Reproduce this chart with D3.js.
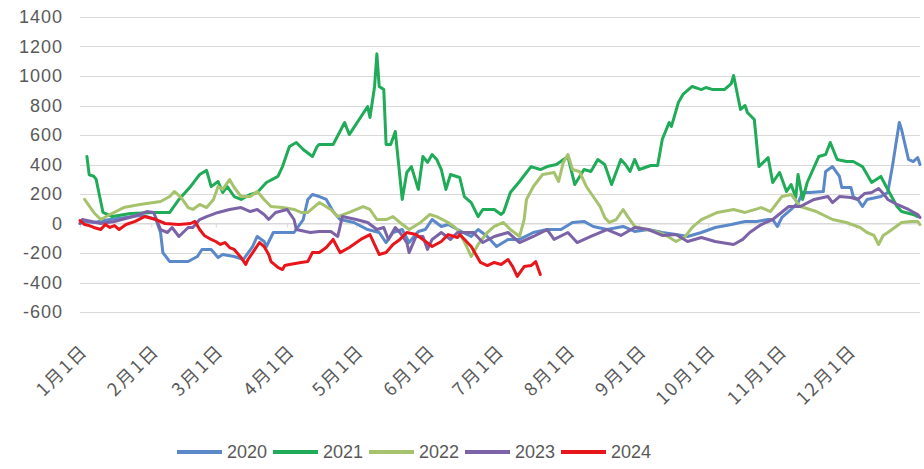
<!DOCTYPE html>
<html lang="zh">
<head>
    <meta charset="UTF-8">
    <title>2020-2024</title>
    <script src="https://d3js.org/d3.v7.min.js"></script>
    <style>
        body {
            margin: 0;
            background: #fff;
        }
        #chart svg {
            display: block;
        }
        .grid line {
            stroke: #d9d9d9;
            stroke-width: 1;
        }
        .ylab, .legend text {
            font-family: "Liberation Sans", Arial, sans-serif;
            font-size: 18px;
            fill: #595959;
        }
        .ylab {
            letter-spacing: 1px;
        }
        .xlab {
            font-family: "Noto Sans CJK SC", "Liberation Sans", sans-serif;
            font-size: 18px;
            fill: #595959;
        }
        .series {
            fill: none;
            stroke-width: 3;
            stroke-linejoin: round;
            stroke-linecap: round;
        }
    </style>
</head>
<body>
    <div id="chart"></div>
    <script>
        // day of year (0 = 1月1日) and value
        const s2020 = [[0,0],[2,14],[6,7],[13,27],[20,41],[26,54],[29,47],[33,27],[35,-61],[36,-197],[39,-258],[47,-258],[51,-224],[53,-176],[57,-176],[60,-231],[62,-210],[67,-224],[71,-244],[75,-156],[77,-88],[80,-122],[81,-156],[84,-61],[88,-61],[93,-61],[97,27],[99,163],[101,197],[104,183],[107,163],[110,81],[113,27],[119,7],[125,-41],[130,-61],[133,-129],[136,-61],[140,-41],[143,-129],[147,-54],[150,-41],[153,27],[157,-20],[160,-7],[164,-41],[170,-88],[173,-41],[177,-88],[181,-156],[186,-108],[191,-108],[197,-61],[203,-41],[209,-41],[214,7],[219,14],[223,-20],[229,-41],[236,-20],[241,-54],[247,-41],[253,-61],[259,-75],[264,-88],[270,-61],[276,-27],[283,-7],[289,14],[294,14],[299,27],[301,27],[303,-20],[305,41],[309,95],[312,142],[314,210],[317,210],[323,217],[324,353],[327,386],[330,319],[331,244],[335,244],[336,183],[338,163],[340,115],[342,163],[348,183],[351,210],[353,386],[356,685],[357,637],[360,434],[362,420],[364,447],[365,400]];
        const s2021 = [[3,455],[4,330],[6,320],[7,300],[10,75],[14,47],[22,68],[32,75],[39,75],[43,163],[48,250],[52,332],[55,360],[57,250],[60,285],[62,210],[64,250],[67,183],[70,163],[74,197],[77,210],[81,278],[86,319],[88,386],[91,522],[94,549],[97,502],[101,454],[103,522],[104,536],[110,536],[115,685],[117,603],[125,793],[126,719],[128,929],[129,1150],[130,929],[132,908],[133,536],[135,536],[137,624],[140,163],[142,346],[144,386],[147,231],[149,454],[151,414],[153,468],[155,434],[157,366],[159,231],[161,332],[165,312],[167,183],[170,142],[173,47],[175,95],[180,95],[183,61],[184,75],[187,210],[191,285],[194,346],[196,386],[200,366],[203,386],[207,400],[212,454],[215,264],[219,366],[222,353],[225,434],[228,400],[231,264],[235,434],[237,400],[239,353],[241,434],[243,366],[248,393],[251,393],[253,570],[256,685],[257,658],[260,820],[262,875],[266,929],[270,908],[272,922],[275,908],[280,908],[283,949],[284,1003],[287,773],[289,800],[290,753],[293,705],[295,386],[299,447],[301,278],[304,346],[307,217],[309,264],[311,176],[312,332],[314,163],[316,278],[321,454],[324,468],[326,549],[329,434],[333,420],[336,420],[340,386],[344,278],[348,319],[351,231],[355,115],[357,81],[362,61],[364,47]];
        const s2022 = [[2,163],[6,75],[9,27],[13,61],[19,108],[26,129],[35,149],[39,183],[41,217],[44,176],[47,108],[49,95],[52,129],[55,108],[58,163],[60,251],[62,231],[65,298],[67,244],[70,183],[74,183],[77,217],[80,163],[83,115],[88,108],[93,95],[96,75],[99,75],[104,142],[109,95],[112,47],[117,75],[123,115],[126,95],[129,27],[133,27],[136,47],[139,7],[143,-41],[148,7],[152,61],[155,47],[160,7],[163,-27],[165,-61],[168,-156],[170,-224],[173,-142],[177,-61],[180,-20],[184,7],[187,-41],[191,-88],[193,27],[194,163],[197,251],[201,332],[206,346],[208,285],[210,414],[212,468],[214,366],[217,353],[220,251],[223,183],[226,115],[228,41],[230,7],[233,27],[236,95],[238,47],[241,-20],[246,-41],[250,-54],[254,-75],[259,-122],[263,-88],[266,-27],[270,27],[277,75],[284,95],[289,75],[296,108],[300,81],[305,183],[309,197],[313,115],[320,81],[327,27],[333,7],[339,-27],[342,-61],[345,-81],[347,-142],[349,-81],[351,-61],[357,7],[361,14],[364,14],[365,-7]];
        const s2023 = [[0,0],[1,27],[9,0],[15,14],[23,47],[29,81],[32,75],[35,-41],[38,-61],[40,-27],[43,-88],[47,-27],[49,-27],[52,27],[55,47],[60,75],[65,95],[70,108],[74,81],[77,95],[80,61],[82,27],[85,75],[90,95],[93,27],[94,-41],[100,-61],[104,-54],[109,-54],[112,-88],[114,47],[120,27],[125,7],[129,-41],[132,-27],[134,-108],[137,-27],[139,-61],[142,-129],[143,-197],[146,-88],[149,-88],[151,-176],[153,-108],[157,-61],[161,-108],[164,-61],[171,-61],[175,-129],[180,-88],[186,-61],[191,-129],[197,-88],[203,-41],[206,-108],[212,-61],[216,-129],[222,-88],[229,-41],[235,-81],[241,-27],[247,-41],[253,-81],[259,-75],[264,-122],[270,-95],[276,-122],[284,-142],[288,-108],[291,-61],[296,-7],[301,27],[308,115],[313,115],[319,163],[325,183],[327,142],[330,183],[335,176],[338,163],[341,204],[344,210],[347,237],[349,204],[351,163],[355,129],[360,95],[364,61],[365,41]];
        const s2024 = [[0,20],[2,-7],[4,-14],[6,-27],[9,-41],[11,-7],[13,-27],[15,-14],[17,-41],[20,-7],[24,14],[28,47],[33,27],[37,0],[43,-7],[48,0],[50,14],[52,-41],[54,-81],[57,-108],[59,-122],[61,-142],[63,-129],[65,-163],[67,-176],[70,-231],[72,-278],[73,-244],[76,-176],[78,-129],[80,-156],[82,-210],[83,-258],[86,-298],[88,-312],[89,-285],[91,-278],[96,-264],[99,-258],[101,-197],[104,-197],[107,-163],[110,-108],[113,-197],[117,-163],[122,-108],[126,-75],[130,-210],[133,-197],[136,-142],[139,-108],[142,-61],[146,-75],[149,-108],[153,-156],[157,-122],[160,-75],[164,-95],[165,-75],[170,-156],[174,-264],[177,-285],[180,-264],[183,-278],[186,-244],[188,-292],[190,-359],[193,-292],[196,-285],[198,-258],[200,-346]];

        const seriesNames = ["2020", "2021", "2022", "2023", "2024"];
        const seriesColors = ["#5b88c8", "#1fab58", "#a6c26c", "#7c63a8", "#e8151b"];
        const monthDays = [0, 31, 59, 90, 120, 151, 181, 212, 243, 273, 304, 334];
        const monthLabels = ["1月1日", "2月1日", "3月1日", "4月1日", "5月1日", "6月1日",
                             "7月1日", "8月1日", "9月1日", "10月1日", "11月1日", "12月1日"];
        const yTicks = [-600, -400, -200, 0, 200, 400, 600, 800, 1000, 1200, 1400];

        const W = 924, H = 469;
        const plotLeft = 80, plotRight = 920, plotTop = 17, plotBottom = 312;

        const svg = d3.select("#chart").append("svg")
            .attr("width", W)
            .attr("height", H);

        const x = d3.scaleLinear().domain([0, 365]).range([plotLeft, plotRight]);
        const y = d3.scaleLinear().domain([-600, 1400]).range([plotBottom, plotTop]);

        // horizontal gridlines
        svg.append("g")
            .attr("class", "grid")
            .selectAll("line")
            .data(yTicks)
            .enter().append("line")
            .attr("x1", plotLeft)
            .attr("x2", plotRight)
            .attr("y1", d => Math.round(y(d)) + 0.5)
            .attr("y2", d => Math.round(y(d)) + 0.5);

        // y labels
        svg.append("g")
            .selectAll("text")
            .data(yTicks)
            .enter().append("text")
            .attr("class", "ylab")
            .attr("x", 63)
            .attr("y", d => y(d))
            .attr("dy", "0.35em")
            .attr("text-anchor", "end")
            .text(d => d);

        // category axis on the zero line, with small ticks
        const xAxis = d3.axisBottom(x)
            .tickValues(monthDays)
            .tickSize(4)
            .tickSizeOuter(0)
            .tickFormat("");
        const gx = svg.append("g")
            .attr("transform", `translate(0,${Math.round(y(0)) + 0.5})`)
            .call(xAxis);
        gx.select(".domain").attr("stroke", "#d9d9d9");
        gx.selectAll(".tick line").attr("stroke", "#d9d9d9");

        // month labels at the bottom, rotated
        svg.append("g")
            .selectAll("text")
            .data(monthDays)
            .enter().append("text")
            .attr("class", "xlab")
            .attr("text-anchor", "end")
            .attr("transform", d => `translate(${x(d) + 9},352) rotate(-45)`)
            .style("letter-spacing", "2px")
            .text((d, i) => monthLabels[i]);

        // series lines
        const line = d3.line()
            .x(d => x(d[0]))
            .y(d => y(d[1]));

        const allSeries = [s2020, s2021, s2022, s2023, s2024];
        svg.append("g")
            .selectAll("path")
            .data(allSeries)
            .enter().append("path")
            .attr("class", "series")
            .attr("d", line)
            .attr("stroke", (d, i) => seriesColors[i]);

        // legend
        const legend = svg.append("g")
            .attr("class", "legend")
            .selectAll("g")
            .data(seriesNames)
            .enter().append("g")
            .attr("transform", (d, i) => `translate(${177 + i * 96},452)`);

        legend.append("line")
            .attr("x1", 0)
            .attr("x2", 45)
            .attr("stroke", (d, i) => seriesColors[i])
            .attr("stroke-width", 4);

        legend.append("text")
            .attr("x", 50)
            .attr("dy", "0.35em")
            .text(d => d);
    </script>
</body>
</html>
